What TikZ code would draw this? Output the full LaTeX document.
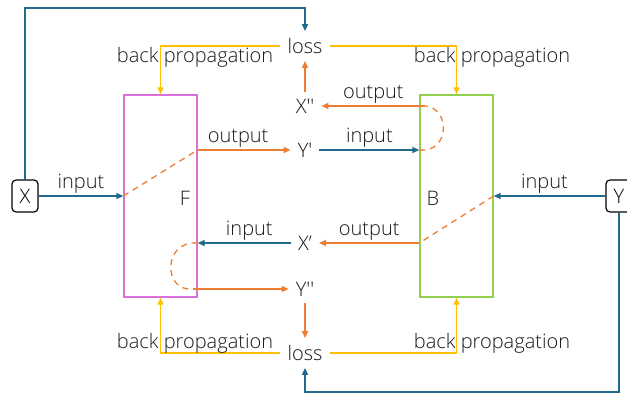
\documentclass[tikz,border=0pt]{standalone}
\usepackage{fontspec}
\setmainfont{Open Sans}[UprightFont=* Light]
\usetikzlibrary{arrows.meta,calc}
\definecolor{flowblue}{HTML}{1F6A8D}
\definecolor{floworange}{HTML}{ED7D31}
\definecolor{flowyellow}{HTML}{FFC000}
\definecolor{netpink}{HTML}{DA70D6}
\definecolor{netgreen}{HTML}{92D050}
\tikzset{
  txt/.style={inner sep=0pt, font=\fontsize{20}{23}\selectfont, text=black!90},
  var/.style={txt, inner sep=7pt},
  lossnode/.style={txt, inner sep=7pt},
  endbox/.style={draw=black, line width=1.2pt, rounded corners=4pt,
    minimum width=26pt, minimum height=32pt, inner sep=0pt,
    font=\fontsize{20}{23}\selectfont},
  netbox/.style={draw, line width=1.3pt, minimum width=73pt,
    minimum height=202pt, inner sep=0pt},
  tip/.style={-{Triangle[length=7pt,width=6pt]}},
  bluearrow/.style={tip, draw=flowblue, line width=1.3pt},
  orangearrow/.style={tip, draw=floworange, line width=1.3pt},
  yellowarrow/.style={tip, draw=flowyellow, line width=1.3pt},
  orangedash/.style={draw=floworange, line width=1.3pt, dash pattern=on 6pt off 5pt},
  lab/.style={txt, midway, above=2pt},
}
\begin{document}
\begin{tikzpicture}[x=1pt,y=-1pt]
\useasboundingbox (0,0) rectangle (627,396);

% networks
\node[netbox, draw=netpink]  (F) at (160.5,196) {};
\node[netbox, draw=netgreen] (B) at (456.5,196) {};
\node[txt] (Flab) at (185,198) {F};
\node[txt] (Blab) at (433,198) {B};

% inputs at both ends
\node[endbox] (X) at (25,196) {X};
\node[endbox] (Y) at (619,196) {Y};

% intermediate values and losses
\node[lossnode] (losstop) at (305,46) {loss};
\node[lossnode] (lossbot) at (305,353) {loss};
\node[var] (X2) at (305,106) {X\textquotesingle\textquotesingle};
\node[var] (Y1) at (305,150) {Y\textquotesingle};
\node[var] (X1) at (305,243) {X’};
\node[var] (Y2) at (305,289) {Y\textquotesingle\textquotesingle};

% forward pass through F
\draw[bluearrow] (X.east) -- (X.east -| F.west) node[lab] {input};
\draw[orangedash] (X.east -| F.west) -- (Y1.west -| F.east);
\draw[orangearrow] (Y1.west -| F.east) -- (Y1.west) node[lab, xshift=-6pt] {output};

% Y' through B
\draw[bluearrow] (Y1.east) -- (Y1.east -| B.west) node[lab] {input};
\draw[orangedash] (Y1.east -| B.west) .. controls +(31,3) and +(25,2) ..
  ($(X2.east -| B.west)+(6,0)$);
\draw[orangearrow] ($(X2.east -| B.west)+(6,0)$) -- (X2.east) node[lab] {output};
\draw[orangearrow] (X2.north) -- (losstop.south);

% backward pass through B
\draw[bluearrow] (Y.west) -- (Y.west -| B.east) node[lab, xshift=-5pt] {input};
\draw[orangedash] (Y.west -| B.east) -- (X1.east -| B.west);
\draw[orangearrow] (X1.east -| B.west) -- (X1.east) node[lab] {output};

% X' through F
\draw[bluearrow] (X1.west) -- (X1.west -| F.east) node[lab, xshift=5pt] {input};
\draw[orangedash] (X1.west -| F.east) .. controls +(-35,-3) and +(-30,3) ..
  ($(Y2.west -| F.east)+(-5,0)$);
\draw[orangearrow] ($(Y2.west -| F.east)+(-5,0)$) -- (Y2.west);
\draw[orangearrow] (Y2.south) -- (lossbot.north);

% targets compared with the losses
\coordinate (topturn) at (305,8);
\coordinate (botturn) at (305,392);
\draw[bluearrow] (X.north) |- (topturn) -- (losstop.north);
\draw[bluearrow] (Y.south) |- (botturn) -- (lossbot.south);

% back propagation
\draw[yellowarrow] (losstop.west) -| (F.north);
\draw[yellowarrow] (losstop.east) -| (B.north);
\draw[yellowarrow] (lossbot.west) -| (F.south);
\draw[yellowarrow] (lossbot.east) -| (B.south);
\node[txt] (bp1) at (195,57) {back propagation};
\node[txt] (bp2) at (492,57) {back propagation};
\node[txt] (bp3) at (195,343) {back propagation};
\node[txt] (bp4) at (492,343) {back propagation};
\end{tikzpicture}
\end{document}
